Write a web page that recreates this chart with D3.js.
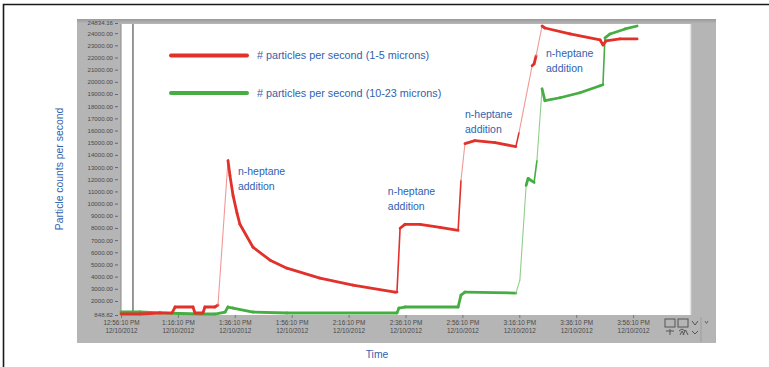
<!DOCTYPE html>
<html><head><meta charset="utf-8">
<script src="https://cdn.jsdelivr.net/npm/d3@7"></script>
<style>body{margin:0;background:#fff;}svg{display:block;}</style>
</head><body>
<svg id="c" width="769" height="367"></svg>
<script>
// ---- data ----
const redTime   = [0, 6.7, 13.7, 17.9, 19.0, 25.3, 26.0, 28.8, 29.5, 33.0, 34.1, 37.6, 38.3, 39.4, 40.8, 41.8, 46.4, 52.4, 58.3, 69.9, 81.5, 96.3, 97.0, 98.1, 99.8, 105.1, 112.1, 118.5, 119.5, 120.9, 124.4, 131.5, 138.8, 139.9, 144.5, 145.2, 145.9, 148.0, 149.0, 157.8, 168.4, 169.4, 170.5, 175.4, 181.4];
const redValues = [930, 930, 1013, 1010, 1504, 1504, 1012, 1012, 1504, 1504, 1667, 13537, 12300, 10650, 9200, 8300, 6415, 5351, 4696, 3878, 3305, 2732, 2732, 7971, 8298, 8298, 8053, 7807, 11900, 14929, 15175, 15011, 14683, 15829, 21314, 21477, 22132, 24588, 24424, 23933, 23442, 23033, 23360, 23524, 23524];
const greenTime   = [0, 6.7, 13.7, 27.8, 33.0, 36.6, 37.6, 39.4, 46.4, 58.3, 97.0, 97.7, 99.8, 118.5, 119.5, 120.9, 138.8, 140.2, 142.4, 143.1, 145.2, 146.2, 148.0, 149.0, 154.3, 161.3, 168.4, 169.4, 170.1, 171.9, 177.2, 181.4];
const greenValues = [1094, 1094, 1013, 930, 930, 1094, 1504, 1422, 1094, 1013, 1013, 1422, 1504, 1504, 2486, 2732, 2650, 3714, 11491, 12064, 11736, 13537, 19431, 18448, 18694, 19104, 19677, 19759, 23606, 23933, 24343, 24588];
const yTickValues = [848.82, 2000, 3000, 4000, 5000, 6000, 7000, 8000, 9000, 10000, 11000, 12000, 13000, 14000, 15000, 16000, 17000, 18000, 19000, 20000, 21000, 22000, 23000, 24000, 24834.16];
const xTickValues = [0, 20, 40, 60, 80, 100, 120, 140, 160, 180];
const xTickTimes  = ["12:56:10 PM", "1:16:10 PM", "1:36:10 PM", "1:56:10 PM", "2:16:10 PM", "2:36:10 PM", "2:56:10 PM", "3:16:10 PM", "3:36:10 PM", "3:56:10 PM"];
const xTickDates  = ["12/10/2012", "12/10/2012", "12/10/2012", "12/10/2012", "12/10/2012", "12/10/2012", "12/10/2012", "12/10/2012", "12/10/2012", "12/10/2012"];
const seriesNames = ["# particles per second (1-5 microns)", "# particles per second (10-23 microns)"];
const annotTimes  = [41.1, 93.8, 120.9, 149.4];
const annotValues = [12309, 10672, 17057, 22050];
const annotLines  = ["n-heptane", "addition"];
const yTitle = "Particle counts per second";
const xTitle = "Time";

// ---- drawing ----
const svg = d3.select("#c");
const blue = "#2f62b0", red = "#e2312b", green = "#45ad42";
const font = "'Liberation Sans', Arial, sans-serif";

svg.append("path").attr("d", "M3.5,369 V4.5 H770").attr("fill", "none").attr("stroke", "#1a1a1a").attr("stroke-width", 1.6);

const defs = svg.append("defs");
const g1 = defs.append("linearGradient").attr("id", "topg").attr("x1", 0).attr("x2", 0).attr("y1", 0).attr("y2", 1);
g1.append("stop").attr("offset", 0).attr("stop-color", "#9a9a9a");
g1.append("stop").attr("offset", 1).attr("stop-color", "#b8b8b8");

svg.append("rect").attr("x", 77).attr("y", 19).attr("width", 639).attr("height", 324).attr("fill", "#b5b5b5");
svg.append("rect").attr("x", 77).attr("y", 19).attr("width", 639).attr("height", 5).attr("fill", "url(#topg)");

const x = d3.scaleLinear().domain([0, 200]).range([121, 690]);
const y = d3.scaleLinear().domain([848.82, 24834.16]).range([315, 23]);

svg.append("rect").attr("x", 121).attr("y", 24).attr("width", 569).attr("height", 291).attr("fill", "#fff");
svg.append("line").attr("x1", 121).attr("x2", 121).attr("y1", 24).attr("y2", 315).attr("stroke", "#8a8a8a").attr("stroke-width", 1);
svg.append("line").attr("x1", 690.5).attr("x2", 690.5).attr("y1", 24).attr("y2", 315).attr("stroke", "#e6e6e6").attr("stroke-width", 1.5);

const ya = svg.append("g").attr("transform", "translate(118,0)")
  .call(d3.axisLeft(y).tickValues(yTickValues).tickFormat(d3.format(".2f")).tickSize(3).tickPadding(2));
ya.select(".domain").remove();
ya.selectAll("line").attr("stroke", "#666");
ya.selectAll("text").attr("font-family", font).attr("font-size", 6.1).attr("fill", "#4a4a4a");

const xa = svg.append("g").attr("transform", "translate(0,315)")
  .call(d3.axisBottom(x).tickValues(xTickValues).tickSize(3).tickFormat(""));
xa.select(".domain").remove();
xa.selectAll("line").attr("stroke", "#777");
xa.selectAll(".tick").each(function(d, i) {
  const t = d3.select(this).append("text").attr("font-family", font).attr("font-size", 6.4)
    .attr("fill", "#4a4a4a").attr("text-anchor", "middle");
  t.append("tspan").attr("x", 0).attr("y", 10).text(xTickTimes[i]);
  t.append("tspan").attr("x", 0).attr("y", 18).text(xTickDates[i]);
});

svg.append("line").attr("x1", x(4.2)).attr("x2", x(4.2)).attr("y1", 24).attr("y2", 315)
  .attr("stroke", "#7d7d7d").attr("stroke-width", 1.6);

function drawSeries(times, values, color, light) {
  const pts = times.map((t, i) => [x(t), y(values[i])]);
  const g = svg.append("g");
  for (let i = 0; i < pts.length - 1; i++) {
    const dx = Math.abs(pts[i + 1][0] - pts[i][0]);
    const rise = pts[i][1] - pts[i + 1][1];
    const steep = rise > 12 && rise > 3 * Math.max(dx, 0.5);
    const vertical = steep && dx < 3.5;
    g.append("line").attr("x1", pts[i][0]).attr("y1", pts[i][1]).attr("x2", pts[i + 1][0]).attr("y2", pts[i + 1][1])
      .attr("stroke", steep && !vertical ? light : color)
      .attr("stroke-width", vertical ? 1.6 : (steep ? 1.1 : 2.8)).attr("stroke-linecap", "round");
  }
}
drawSeries(greenTime, greenValues, green, "#8fcf8c");
drawSeries(redTime, redValues, red, "#f09a96");

const legend = [{c: red, y: 55.5}, {c: green, y: 93}];
legend.forEach((l, i) => {
  svg.append("line").attr("x1", 171).attr("x2", 247).attr("y1", l.y).attr("y2", l.y)
    .attr("stroke", l.c).attr("stroke-width", 4).attr("stroke-linecap", "round");
  svg.append("text").attr("x", 257).attr("y", l.y + 3.8).attr("font-family", font).attr("font-size", 10.8)
    .attr("fill", blue).text(seriesNames[i]);
});

annotTimes.forEach((t, i) => {
  const tx = svg.append("text").attr("font-family", font).attr("font-size", 10.5).attr("fill", blue);
  annotLines.forEach((s, j) => tx.append("tspan").attr("x", x(t)).attr("y", y(annotValues[i]) + j * 15).text(s));
});

svg.append("text").attr("transform", "translate(63,169) rotate(-90)").attr("text-anchor", "middle")
  .attr("font-family", font).attr("font-size", 10.4).attr("fill", blue).text(yTitle);
svg.append("text").attr("x", 377).attr("y", 358).attr("text-anchor", "middle")
  .attr("font-family", font).attr("font-size", 10.4).attr("fill", blue).text(xTitle);

const tb = svg.append("g").attr("fill", "none").attr("stroke", "#555").attr("stroke-width", 1);
tb.append("rect").attr("x", 665).attr("y", 319).attr("width", 10).attr("height", 8);
tb.append("rect").attr("x", 678).attr("y", 319).attr("width", 10).attr("height", 8);
tb.append("path").attr("d", "M666,331 h8 M670,329 v6 M679,331 l3,-2 l3,2 M680,335 l2,-4 l2,4 M688,335 l-2.5,-5 l-2.5,5");
tb.append("path").attr("d", "M692,321 l3,4 l3,-4 M692,331 l3,3 l3,-3");
tb.append("path").attr("d", "M705,321 l1.5,2.5 l1.5,-2.5").attr("stroke", "#666");
svg.append("line").attr("x1", 701).attr("x2", 701).attr("y1", 317).attr("y2", 342).attr("stroke", "#9d9d9d");
</script>
</body></html>
